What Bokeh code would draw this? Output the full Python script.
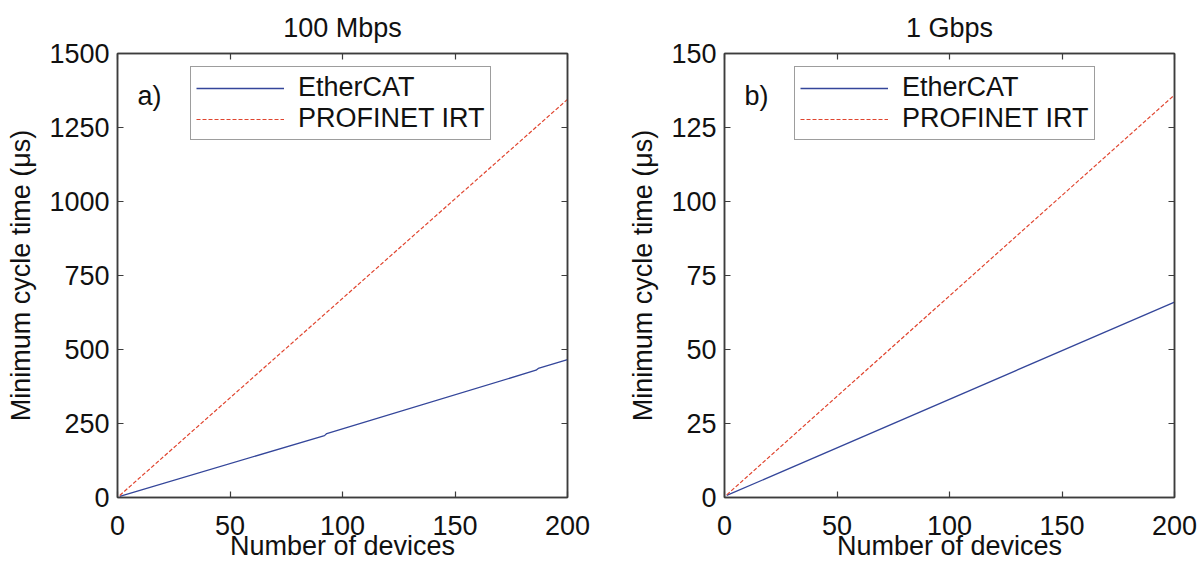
from bokeh.plotting import figure
from bokeh.layouts import row
from bokeh.models import (Range1d, LinearAxis, Legend, LegendItem, Label,
                          FixedTicker, CustomJSTickFormatter)
from bokeh.embed import file_html
from bokeh.resources import INLINE

# ---- data ----
x_ticks = [0, 50, 100, 150, 200]
y_ticks_a = [0, 250, 500, 750, 1000, 1250, 1500]
y_ticks_b = [0, 25, 50, 75, 100, 125, 150]

ecat_a_x = [1, 92, 93, 186, 187, 200]
ecat_a_y = [4, 209, 216, 430, 436, 466]
pn_a_x = [1, 200]
pn_a_y = [7, 1345]

ecat_b_x = [1, 200]
ecat_b_y = [0.7, 66]
pn_b_x = [1, 200]
pn_b_y = [0.9, 136]

titles = ["100 Mbps", "1 Gbps"]
tags = ["a)", "b)"]
series_names = ["EtherCAT", "PROFINET IRT"]
x_label = "Number of devices"
y_label = "Minimum cycle time (\u03bcs)"

FONT = "Liberation Sans"
FS = "27px"
TXT = "#111111"
FRAME = "#3c3c3c"
BLUE = "#34469a"
RED = "#e0452f"


def style_axis(ax, ticks, show_labels=True):
    ax.ticker = FixedTicker(ticks=ticks)
    ax.axis_line_color = FRAME
    ax.axis_line_width = 1.5
    ax.major_tick_line_color = FRAME
    ax.major_tick_line_width = 1.2
    ax.major_tick_in = 6
    ax.major_tick_out = 0
    ax.minor_tick_line_color = None
    ax.major_label_text_font = FONT
    ax.major_label_text_color = TXT
    ax.axis_label_text_font = FONT
    ax.axis_label_text_font_style = "normal"
    ax.axis_label_text_color = TXT
    ax.axis_label_text_font_size = FS
    if show_labels:
        ax.major_label_text_font_size = FS
    else:
        ax.formatter = CustomJSTickFormatter(code="return ''")
        ax.major_label_text_font_size = "1px"
        ax.major_label_standoff = 0


def make_fig(title, ymax, yticks, ex, ey, px, py, tag, left, right, leg_x):
    p = figure(width=602, height=565,
               x_range=Range1d(0, 200), y_range=Range1d(0, ymax),
               output_backend="svg", toolbar_location=None,
               min_border_left=left, min_border_right=right,
               min_border_top=53, min_border_bottom=68,
               title=title)
    p.title.text_font = FONT
    p.title.text_font_size = FS
    p.title.text_font_style = "normal"
    p.title.text_color = TXT
    p.title.align = "center"
    p.title.standoff = 21
    p.grid.visible = False
    p.outline_line_color = FRAME
    p.outline_line_width = 1.5
    p.background_fill_color = "white"
    p.border_fill_color = "white"

    style_axis(p.xaxis[0], x_ticks)
    style_axis(p.yaxis[0], yticks)
    p.xaxis[0].axis_label = x_label
    p.yaxis[0].axis_label = y_label
    p.xaxis[0].major_label_standoff = 18
    p.xaxis[0].axis_label_standoff = -7
    p.yaxis[0].major_label_standoff = 8
    p.yaxis[0].axis_label_standoff = 10

    top = LinearAxis()
    style_axis(top, x_ticks, show_labels=False)
    p.add_layout(top, "above")
    rgt = LinearAxis()
    style_axis(rgt, yticks, show_labels=False)
    p.add_layout(rgt, "right")

    r1 = p.line(ex, ey, line_color=BLUE, line_width=1.3)
    r2 = p.line(px, py, line_color=RED, line_width=1.2, line_dash="4 2")

    leg = Legend(items=[LegendItem(label=series_names[0], renderers=[r1]),
                        LegendItem(label=series_names[1], renderers=[r2])],
                 location=(leg_x, 357))
    leg.label_text_font = FONT
    leg.label_text_font_size = FS
    leg.label_text_line_height = 0.8
    leg.label_text_color = TXT
    leg.glyph_width = 88
    leg.glyph_height = 22
    leg.label_height = 22
    leg.label_standoff = 14
    leg.padding = 5
    leg.spacing = 0
    leg.margin = 0
    leg.border_line_color = FRAME
    leg.border_line_width = 1.2
    leg.background_fill_alpha = 1.0
    p.add_layout(leg)

    p.add_layout(Label(x=20, y=402, x_units="screen", y_units="screen",
                       text=tag, text_font=FONT, text_font_size=FS,
                       text_color=TXT, text_baseline="middle"))
    return p


p1 = make_fig(titles[0], 1500, y_ticks_a, ecat_a_x, ecat_a_y, pn_a_x, pn_a_y, tags[0], 117, 35, 73)
p2 = make_fig(titles[1], 150, y_ticks_b, ecat_b_x, ecat_b_y, pn_b_x, pn_b_y, tags[1], 122, 30, 70)

layout = row(p1, p2)
open("out.html", "w").write(file_html(layout, INLINE))
